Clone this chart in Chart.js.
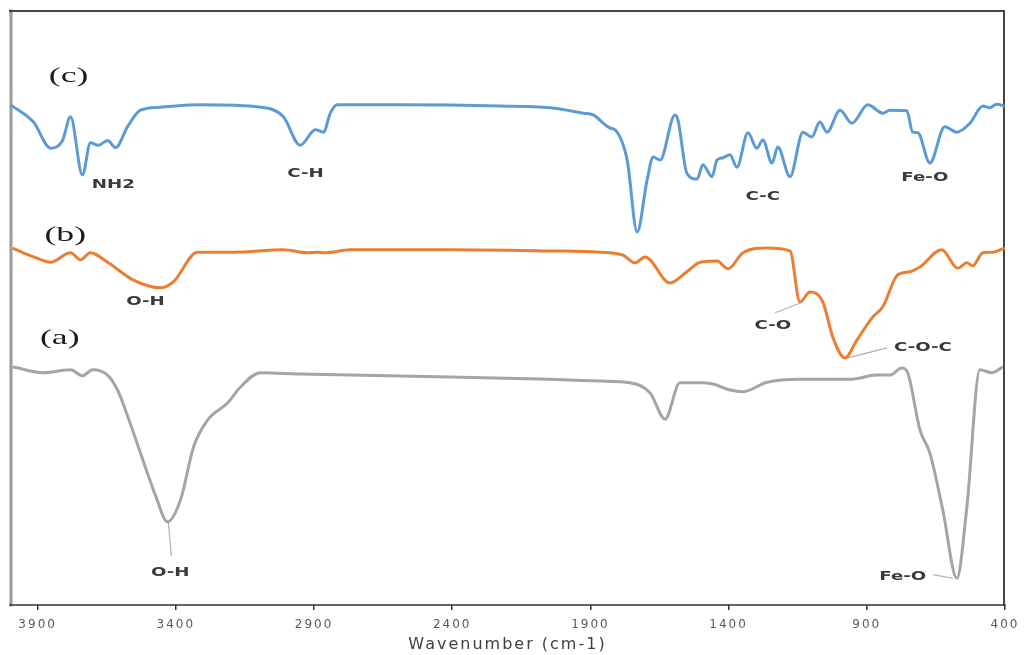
<!DOCTYPE html>
<html>
<head>
<meta charset="utf-8">
<script src="https://cdn.jsdelivr.net/npm/chart.js@4.4.0/dist/chart.umd.min.js"></script>
<style>
    html, body { margin: 0; padding: 0; background: #fff; }
    canvas { display: block; }
</style>
</head>
<body>
<canvas id="ftir" width="1025" height="655"></canvas>
<script>
// Espectro (c) - azul
const wnC = [3998, 3915, 3853, 3810, 3781, 3738, 3709, 3680, 3647, 3618, 3575, 3528, 3456, 3311, 3094,
    3011, 2950, 2895, 2866, 2841, 2816, 2588, 2227, 2046, 1926, 1890, 1829, 1811, 1767, 1731,
    1695, 1673, 1648, 1594, 1583, 1551, 1514, 1493, 1460, 1442, 1420, 1395, 1370, 1330, 1298,
    1276, 1243, 1222, 1178, 1131, 1099, 1070, 1044, 997, 954, 896, 842, 817, 755, 734,
    715, 672, 618, 574, 527, 480, 455, 430, 401];
const trC = [84.2, 81.3, 76.9, 78.2, 82.2, 72.4, 77.8, 77.4, 78.2, 77.0, 80.5, 83.3, 83.8, 84.2, 83.8,
    82.2, 77.4, 80.0, 79.6, 82.8, 84.2, 84.2, 84.0, 83.7, 82.8, 82.5, 80.3, 80.0, 74.9, 62.8,
    71.5, 75.4, 74.9, 82.5, 81.6, 72.7, 71.7, 74.1, 72.1, 74.9, 75.3, 75.8, 73.7, 79.5, 76.9,
    78.3, 74.4, 77.1, 72.1, 79.6, 78.8, 81.3, 79.6, 83.3, 81.1, 84.2, 82.8, 83.3, 83.2, 79.6,
    79.5, 74.4, 80.5, 79.6, 81.1, 84.0, 83.7, 84.3, 84.0];

// Espectro (b) - naranja
const wnB = [3991, 3915, 3853, 3781, 3745, 3709, 3647, 3553, 3456, 3409, 3322, 3192, 3011, 2924, 2888,
    2859, 2769, 2407, 2046, 1865, 1782, 1739, 1702, 1612, 1551, 1503, 1442, 1402, 1348, 1261,
    1178, 1142, 1106, 1059, 1023, 979, 936, 878, 842, 788, 744, 708, 629, 571, 538,
    517, 480, 444, 401];
const trB = [60.1, 58.6, 57.7, 59.3, 58.1, 59.3, 57.7, 54.7, 53.4, 54.4, 59.4, 59.4, 59.8, 59.3, 59.4,
    59.3, 59.8, 59.8, 59.6, 59.4, 58.9, 57.6, 58.6, 54.2, 56.1, 57.7, 57.9, 56.6, 59.3, 60.1,
    59.6, 51.0, 52.7, 51.0, 45.1, 41.6, 44.6, 48.5, 50.2, 55.6, 56.1, 56.9, 59.8, 56.7, 57.6,
    57.1, 59.3, 59.4, 60.1];

// Espectro (a) - gris
const wnA = [3991, 3879, 3781, 3738, 3701, 3647, 3611, 3582, 3528, 3474, 3430, 3383, 3336, 3286, 3213,
    3166, 3094, 2950, 2769, 2407, 2046, 1865, 1757, 1684, 1630, 1576, 1503, 1457, 1395, 1348,
    1261, 1142, 961, 864, 817, 773, 752, 708, 672, 625, 574, 538, 491, 448, 408];
const trA = [40.1, 39.1, 39.6, 38.6, 39.6, 38.7, 36.2, 32.8, 25.6, 18.5, 14.0, 17.7, 26.6, 31.1, 34.0,
    36.7, 39.1, 38.9, 38.7, 38.4, 38.0, 37.7, 37.4, 35.7, 31.3, 37.4, 37.4, 37.2, 36.2, 35.9,
    37.5, 38.0, 38.0, 38.7, 38.7, 39.9, 39.1, 29.5, 25.6, 16.0, 4.5, 16.5, 39.6, 39.1, 40.1];

const xTicks = [3900, 3400, 2900, 2400, 1900, 1400, 900, 400];

// Nombres de las curvas y etiquetas de bandas (número de onda, transmitancia, texto)
const curveNames = [[3788, 89.0, '(c)'], [3800, 62.2, '(b)'], [3820, 44.8, '(a)']];
const bandLabels = [
    [3626, 70.7, 'NH2'], [2931, 72.7, 'C-H'], [1276, 68.7, 'C-C'], [690, 71.9, 'Fe-O'],
    [3510, 51.0, 'O-H'], [1240, 47.0, 'C-O'], [697, 43.3, 'C-O-C'],
    [3420, 5.4, 'O-H'], [770, 4.7, 'Fe-O']
];
const leaders = [
    [1131, 51.0, 1232, 49.2], [968, 41.6, 827, 43.3],
    [3427, 13.8, 3416, 8.2], [589, 4.5, 661, 5.1]
];

function toPoints(xs, ys) {
    return xs.map((x, i) => ({ x: x, y: ys[i] }));
}

function stretchedText(ctx, text, x, y, sx) {
    ctx.save();
    ctx.translate(x, y);
    ctx.scale(sx, 1);
    ctx.fillText(text, 0, 0);
    ctx.restore();
}

// Marco del área de trazado y anotaciones
const framePlugin = {
    id: 'frame',
    beforeDraw(chart) {
        chart.ctx.letterSpacing = '2px';
    },
    beforeDatasetsDraw(chart) {
        const { ctx, chartArea: a } = chart;
        ctx.letterSpacing = '0px';
        ctx.save();
        ctx.lineCap = 'square';
        ctx.strokeStyle = '#9a9a9a';
        ctx.lineWidth = 3;
        ctx.beginPath(); ctx.moveTo(a.left + 1, a.top); ctx.lineTo(a.left + 1, a.bottom); ctx.stroke();
        ctx.strokeStyle = '#444';
        ctx.lineWidth = 2;
        ctx.beginPath(); ctx.moveTo(a.left, a.top); ctx.lineTo(a.right - 1, a.top); ctx.lineTo(a.right - 1, a.bottom); ctx.stroke();
        ctx.lineWidth = 1.5;
        ctx.strokeStyle = '#333';
        ctx.beginPath(); ctx.moveTo(a.left, a.bottom); ctx.lineTo(a.right, a.bottom); ctx.stroke();
        ctx.restore();
    },
    afterDatasetsDraw(chart) {
        const { ctx, scales: { x, y } } = chart;
        ctx.save();
        ctx.textAlign = 'center';
        ctx.textBaseline = 'middle';

        ctx.strokeStyle = '#b0b0b0';
        ctx.lineWidth = 1.2;
        leaders.forEach(([x1, y1, x2, y2]) => {
            ctx.beginPath();
            ctx.moveTo(x.getPixelForValue(x1), y.getPixelForValue(y1));
            ctx.lineTo(x.getPixelForValue(x2), y.getPixelForValue(y2));
            ctx.stroke();
        });

        ctx.fillStyle = '#1a1a1a';
        ctx.font = '21px "Liberation Serif", serif';
        curveNames.forEach(([wn, t, txt]) => {
            stretchedText(ctx, txt, x.getPixelForValue(wn), y.getPixelForValue(t), 1.7);
        });

        ctx.fillStyle = '#3a3a3a';
        ctx.font = 'bold 13px "DejaVu Sans", sans-serif';
        bandLabels.forEach(([wn, t, txt]) => {
            stretchedText(ctx, txt, x.getPixelForValue(wn), y.getPixelForValue(t), 1.4);
        });
        ctx.restore();
    }
};

const ctx = document.getElementById('ftir').getContext('2d');
new Chart(ctx, {
    type: 'line',
    data: {
        datasets: [
            { label: '(c)', data: toPoints(wnC, trC), borderColor: '#5b9bd5' },
            { label: '(b)', data: toPoints(wnB, trB), borderColor: '#ed7d31' },
            { label: '(a)', data: toPoints(wnA, trA), borderColor: '#a5a5a5' }
        ]
    },
    options: {
        responsive: false,
        animation: false,
        devicePixelRatio: 1,
        layout: { padding: { top: 11, left: 10, right: 20, bottom: 0 } },
        elements: {
            line: { borderWidth: 3, cubicInterpolationMode: 'monotone', fill: false },
            point: { radius: 0 }
        },
        plugins: {
            legend: { display: false },
            tooltip: { enabled: false }
        },
        scales: {
            x: {
                type: 'linear',
                min: 400,
                max: 4000,
                reverse: true,
                afterBuildTicks(scale) {
                    scale.ticks = xTicks.map(v => ({ value: v }));
                },
                afterFit(scale) {
                    scale.height = 50;
                },
                border: { display: false },
                grid: { drawOnChartArea: false, drawTicks: true, tickLength: 5, color: '#333', lineWidth: 1.5 },
                ticks: {
                    autoSkip: false,
                    maxRotation: 0,
                    padding: 8,
                    color: '#595959',
                    font: { family: '"DejaVu Sans", sans-serif', size: 12 },
                    callback: v => String(v)
                },
                title: {
                    display: true,
                    text: 'Wavenumber (cm-1)',
                    color: '#404040',
                    font: { family: '"DejaVu Sans", sans-serif', size: 16 },
                    padding: { top: 0, bottom: 1 }
                }
            },
            y: {
                display: false,
                min: 0,
                max: 100
            }
        }
    },
    plugins: [framePlugin]
});
</script>
</body>
</html>
